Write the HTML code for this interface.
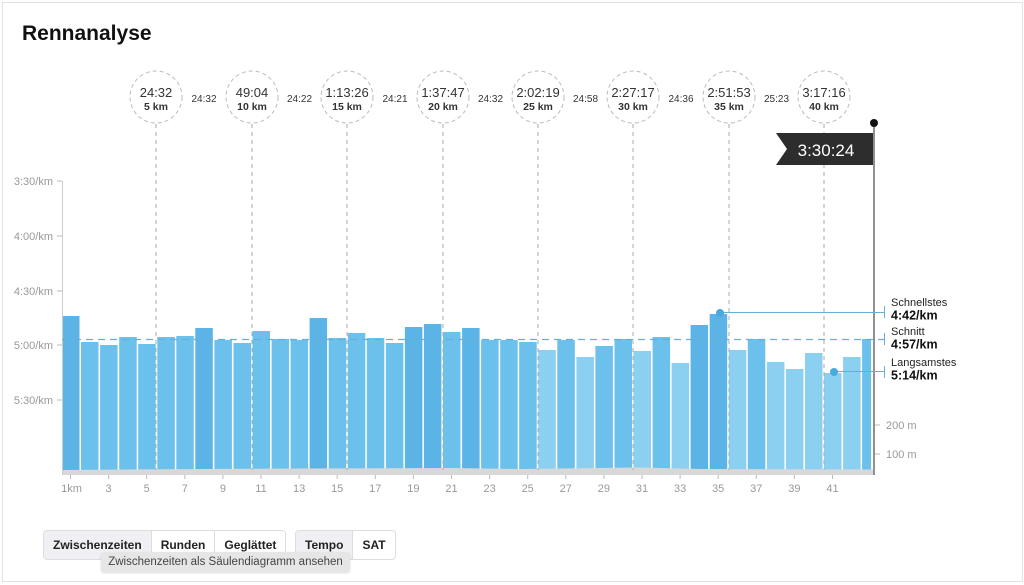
<!DOCTYPE html>
<html><head><meta charset="utf-8">
<style>
html,body{margin:0;padding:0;background:#fff;}
body{width:1024px;height:585px;overflow:hidden;position:relative;font-family:"Liberation Sans",sans-serif;}
.frame{position:absolute;left:2px;top:2px;width:1019px;height:578px;border:1px solid #e2e2e2;}
h1{position:absolute;left:22px;top:22px;margin:0;font-size:21px;font-weight:bold;color:#111;}
.btns{position:absolute;top:530px;height:28px;display:flex;border:1px solid #ddd;border-radius:4px;overflow:hidden;font-size:12px;font-weight:bold;color:#222;}
.btns div{padding:0 9px;line-height:28px;border-left:1px solid #ddd;background:#fff;}
.btns div:first-child{border-left:none;}
.btns .on{background:#f0f0f4;}
.tip{position:absolute;left:101px;top:552px;width:249px;height:20px;background:#e6e6e6;border-radius:3px;font-size:11.5px;color:#444;line-height:20px;text-align:center;box-shadow:0 1px 2px rgba(0,0,0,.15);}
</style></head><body>
<div class="frame"></div>
<h1>Rennanalyse</h1>
<svg id="c" width="1024" height="585" style="position:absolute;left:0;top:0" xmlns="http://www.w3.org/2000/svg"></svg>
<div class="btns" style="left:43px;"><div class="on">Zwischenzeiten</div><div>Runden</div><div>Geglättet</div></div>
<div class="btns" style="left:295px;"><div class="on">Tempo</div><div>SAT</div></div>
<div class="tip">Zwischenzeiten als Säulendiagramm ansehen</div>
<script>
var tops=[316,342,345,337,344,337,336,328,340,343,331,339,340,318,338,333,338,343,327,324,332,328,340,340,342,350,340,357,346,339,351,337,363,325,314,350,339,362,369,353,373,357,339];
var s='';
var x0=62,p=19.05;
for(var i=0;i<43;i++){
 var x=x0+i*p,w=(i==42)?9:17.5,t=tops[i];
 var c=t<330?'#5bb4e5':(t<=346?'#6cc0ec':'#8bcff1');
 if(i==40)c='#8bcff1';
 s+='<rect x="'+x.toFixed(1)+'" y="'+t+'" width="'+w+'" height="'+(470-t)+'" fill="'+c+'"/>';
}
s+='<path d="M62 470 L200 469 L300 468.5 L450 468 L520 469 L640 467.5 L700 469 L873 469.5 L873 475 L62 475 Z" fill="#d8d8d8"/>';
s+='<line x1="62.5" y1="181" x2="62.5" y2="475" stroke="#ccc"/>';
var yl=[['3:30/km',181],['4:00/km',236],['4:30/km',291],['5:00/km',345],['5:30/km',400]];
yl.forEach(function(a){s+='<line x1="57" y1="'+a[1]+'" x2="62" y2="'+a[1]+'" stroke="#bbb"/><text x="53" y="'+(a[1]+4)+'" font-size="11" fill="#999" text-anchor="end">'+a[0]+'</text>';});
for(var k=1;k<=41;k+=2){var xx=x0+(k-1)*p+8.5;s+='<line x1="'+xx+'" y1="475" x2="'+xx+'" y2="479" stroke="#bbb"/><text x="'+(k==1?xx+1:xx)+'" y="492" font-size="11" fill="#999" text-anchor="middle">'+(k==1?'1km':k)+'</text>';}
s+='<line x1="62" y1="339.5" x2="884" y2="339.5" stroke="#6aaed8" stroke-dasharray="7,5" stroke-width="1.2"/>';
var cx=[156,252,347,443,538,633,729,824];
var ct=['24:32','49:04','1:13:26','1:37:47','2:02:19','2:27:17','2:51:53','3:17:16'];
var sp=['24:32','24:22','24:21','24:32','24:58','24:36','25:23'];
for(var j=0;j<8;j++){
 s+='<line x1="'+cx[j]+'" y1="124" x2="'+cx[j]+'" y2="470" stroke="#aaa" stroke-dasharray="4,4"/>';
 s+='<circle cx="'+cx[j]+'" cy="97" r="26" fill="#fff" stroke="#bbb" stroke-dasharray="4,3"/>';
 s+='<text x="'+cx[j]+'" y="97" font-size="13" fill="#333" text-anchor="middle">'+ct[j]+'</text>';
 s+='<text x="'+cx[j]+'" y="110" font-size="10.5" font-weight="bold" fill="#333" text-anchor="middle">'+(5*(j+1))+' km</text>';
 if(j<7)s+='<text x="'+((cx[j]+cx[j+1])/2)+'" y="102" font-size="10" fill="#333" text-anchor="middle">'+sp[j]+'</text>';
}
s+='<line x1="874" y1="123" x2="874" y2="475" stroke="#555" stroke-width="1.3"/><circle cx="874" cy="123" r="4" fill="#111"/>';
s+='<path d="M776 133 L873 133 L873 165 L776 165 L787 149 Z" fill="#2d2d2d"/><text x="826" y="156" font-size="17" fill="#fff" text-anchor="middle">3:30:24</text>';
s+='<line x1="720" y1="312.5" x2="884" y2="312.5" stroke="#6aaed8"/><circle cx="720" cy="313" r="4" fill="#4da8e0"/>';
s+='<line x1="834" y1="371.5" x2="884" y2="371.5" stroke="#6aaed8"/><circle cx="834" cy="372" r="4" fill="#4da8e0"/>';
[[312,'Schnellstes','4:42/km',306],[339,'Schnitt','4:57/km',335],[372,'Langsamstes','5:14/km',366]].forEach(function(a){
 s+='<line x1="884.5" y1="'+(a[0]-6)+'" x2="884.5" y2="'+(a[0]+6)+'" stroke="#6aaed8"/>';
 s+='<text x="891" y="'+a[3]+'" font-size="11" fill="#222">'+a[1]+'</text><text x="891" y="'+(a[3]+13.5)+'" font-size="12.5" font-weight="bold" fill="#111">'+a[2]+'</text>';
});
[['200 m',425],['100 m',454]].forEach(function(a){s+='<line x1="875" y1="'+a[1]+'" x2="880" y2="'+a[1]+'" stroke="#bbb"/><text x="886" y="'+(a[1]+4)+'" font-size="11" fill="#999">'+a[0]+'</text>';});
document.getElementById('c').innerHTML=s;
</script>
</body></html>
